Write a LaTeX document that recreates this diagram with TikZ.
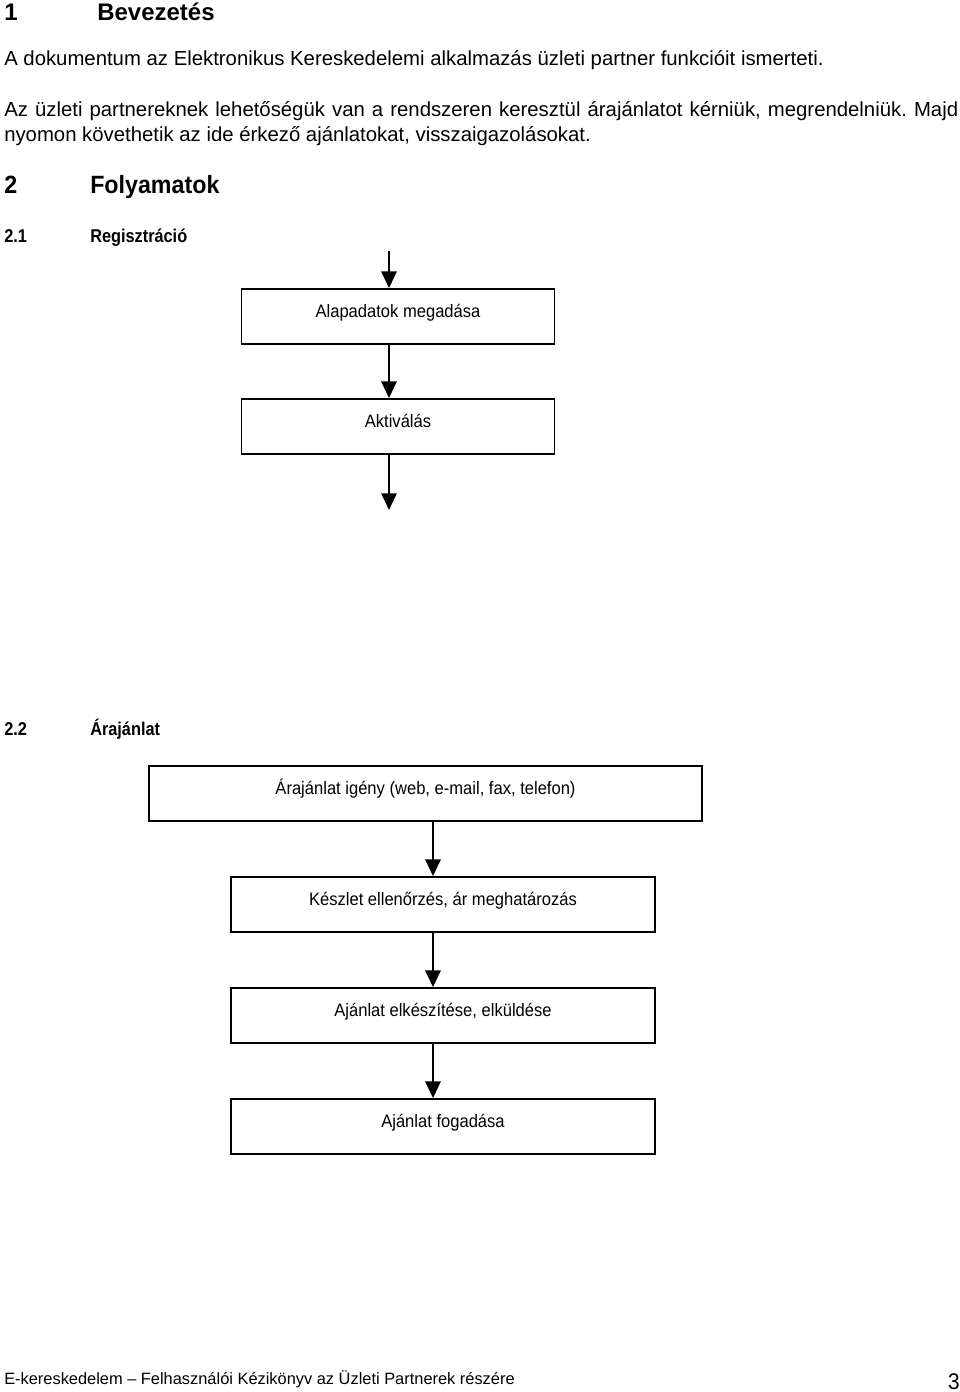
\documentclass[tikz,border=0pt]{standalone}
\usepackage{fontspec}
\setmainfont{Liberation Sans}
\newfontfamily\narrowA[FakeStretch=0.92]{Liberation Sans}
\newfontfamily\narrowB[FakeStretch=0.88]{Liberation Sans}
\newfontfamily\narrowC[FakeStretch=0.93]{Liberation Sans}
\usetikzlibrary{arrows.meta}
\frenchspacing
\tikzset{
  bodytext/.style={anchor=base west, inner sep=0pt, font=\fontsize{15.25pt}{17pt}\selectfont},
  headone/.style={anchor=base west, inner sep=0pt, font=\fontsize{18pt}{20pt}\selectfont\bfseries},
  headtwo/.style={anchor=base west, inner sep=0pt, font=\narrowC\fontsize{18.75pt}{21pt}\selectfont\bfseries},
  headthree/.style={anchor=base west, inner sep=0pt, font=\narrowB\fontsize{13.9pt}{16pt}\selectfont\bfseries},
  footertext/.style={anchor=base west, inner sep=0pt, font=\fontsize{12.3pt}{14pt}\selectfont},
  flowbox/.style={draw, line width=1.4pt, rectangle, inner sep=0pt,
    text height=21pt, text depth=20.25pt, font=\narrowA\fontsize{13.5pt}{15pt}\selectfont},
  arr/.style={line width=1.4pt, -{Triangle[width=11.5pt,length=12.5pt]}}
}
\begin{document}
\begin{tikzpicture}[x=0.75pt,y=-0.75pt]
\useasboundingbox (0,0) rectangle (960,1392);
% headings and body
\node[headone] (h1n) at (4,20) {1};
\node[headone] (h1t) at (97,20) {Bevezetés};
\node[bodytext] (p1) at (4,65) {A dokumentum az Elektronikus Kereskedelemi alkalmazás üzleti partner funkcióit ismerteti.};
\node[bodytext] (p2) at (4,116) {\makebox[715.5pt][s]{Az üzleti partnereknek lehetőségük van a rendszeren keresztül árajánlatot kérniük, megrendelniük. Majd}};
\node[bodytext] (p3) at (4,141) {nyomon követhetik az ide érkező ajánlatokat, visszaigazolásokat.};
\node[headtwo] (h2n) at (4,193) {2};
\node[headtwo] (h2t) at (90,193) {Folyamatok};
\node[headthree] (h21n) at (4,242) {2.1};
\node[headthree] (h21t) at (90,242) {Regisztráció};
% flow 1
\coordinate (ax) at (389,0);
\coordinate (start1) at (389,251);
\coordinate (end1) at (389,510);
\node[flowbox, minimum width=234.75pt] (a1) at (398,316.5) {Alapadatok megadása};
\node[flowbox, minimum width=234.75pt] (a2) at (398,426.5) {Aktiválás};
\draw[arr] (start1) -- (a1.north -| ax);
\draw[arr] (a1.south -| ax) -- (a2.north -| ax);
\draw[arr] (a2.south -| ax) -- (end1);
% 2.2
\node[headthree] (h22n) at (4,735) {2.2};
\node[headthree] (h22t) at (90,735) {Árajánlat};
% flow 2
\coordinate (bx) at (433,0);
\node[flowbox, minimum width=414.75pt] (b1) at (425.5,793.5) {Árajánlat igény (web, e-mail, fax, telefon)};
\node[flowbox, minimum width=318pt] (b2) at (443,904.5) {Készlet ellenőrzés, ár meghatározás};
\node[flowbox, minimum width=318pt] (b3) at (443,1015.5) {Ajánlat elkészítése, elküldése};
\node[flowbox, minimum width=318pt] (b4) at (443,1126.5) {Ajánlat fogadása};
\draw[arr] (b1.south -| bx) -- (b2.north -| bx);
\draw[arr] (b2.south -| bx) -- (b3.north -| bx);
\draw[arr] (b3.south -| bx) -- (b4.north -| bx);
% footer
\node[footertext] (foot) at (4,1384) {E-kereskedelem – Felhasználói Kézikönyv az Üzleti Partnerek részére};
\node[anchor=base east, inner sep=0pt, font=\narrowA\fontsize{17pt}{19pt}\selectfont] (pg) at (960,1389) {3};
\end{tikzpicture}
\end{document}
